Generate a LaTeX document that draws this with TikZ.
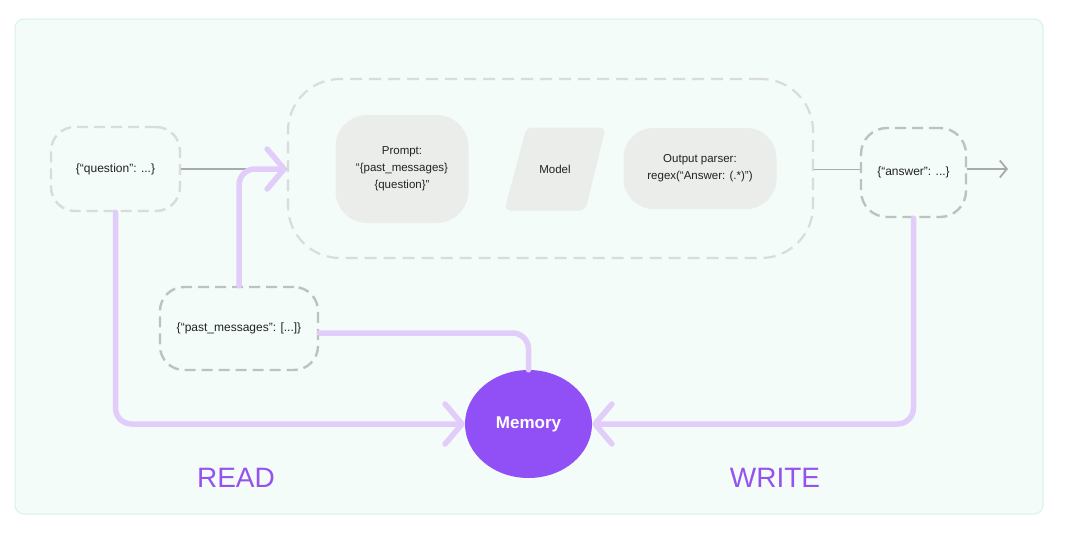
\documentclass[tikz,border=0pt]{standalone}
\usepackage{fontspec}
\setmainfont{Liberation Sans}
\usetikzlibrary{arrows.meta,shapes.geometric}
\definecolor{bgfill}{HTML}{F3FCF8}
\definecolor{bgline}{HTML}{D6F3E4}
\definecolor{dashlight}{HTML}{DADCDA}
\definecolor{dashdark}{HTML}{BEC2BF}
\definecolor{boxfill}{HTML}{EBEDEB}
\definecolor{lilac}{HTML}{E2CCFA}
\definecolor{memfill}{HTML}{914FF6}
\definecolor{wordpurple}{HTML}{9552EE}
\definecolor{greyline}{HTML}{A9ABA9}
\definecolor{txt}{HTML}{222222}
\tikzset{
  iobox/.style={draw=dashlight, line width=2.4pt, dash pattern=on 11pt off 6pt, rounded corners=24pt, fill=bgfill, text=txt, font=\fontsize{12}{14}\selectfont, inner sep=0pt},
  darkio/.style={iobox, draw=dashdark},
  stagebox/.style={fill=boxfill, text=txt, rounded corners=32pt, font=\fontsize{11.5}{17}\selectfont, align=center, inner sep=0pt},
  purpleflow/.style={draw=lilac, line width=5.5pt, rounded corners=16pt, line cap=round},
  purpletip/.style={-{Straight Barb[length=17pt,width=40pt,round]}},
  greyflow/.style={draw=greyline, line width=1.8pt},
  bigword/.style={text=wordpurple, font=\fontsize{28}{32}\selectfont}
}
\begin{document}
\begin{tikzpicture}[x=1pt,y=-1pt]
\useasboundingbox (0,0) rectangle (1080,538);
% background panel
\node[draw=bgline, fill=bgfill, line width=1pt, rounded corners=9pt, minimum width=1028pt, minimum height=495pt, inner sep=0pt] (panel) at (529,266.5) {};
% pipeline container
\node[draw=dashlight, line width=2.2pt, dash pattern=on 12pt off 7pt, rounded corners=52pt, minimum width=525pt, minimum height=179pt, inner sep=0pt] (pipe) at (550.5,168.5) {};
% stages
\node[stagebox, minimum width=133pt, minimum height=108pt] (prompt) at (402,169) {Prompt:\\“\{past\_messages\}\\\{question\}”};
\filldraw[fill=boxfill, draw=boxfill, line width=1pt, rounded corners=5pt] (527,128) -- (605,128) -- (585,210) -- (505,210) -- cycle;
\node[text=txt, font=\fontsize{11.5}{14}\selectfont] (model) at (555,169) {Model};
\node[stagebox, rounded corners=30pt, minimum width=153pt, minimum height=81pt] (parser) at (700,168.5) {Output parser:\\regex(“Answer: (.*)”)};
% io nodes
\node[iobox, minimum width=129pt, minimum height=84pt] (question) at (115.5,169) {\{“question”: ...\}};
\node[darkio, minimum width=105pt, minimum height=89pt, rounded corners=26pt] (answer) at (913.5,172.5) {\{“answer”: ...\}};
\node[darkio, minimum width=158pt, minimum height=83pt] (past) at (239,328.5) {\{“past\_messages”: [...]\}};
% memory
\node[ellipse, fill=memfill, minimum width=127pt, minimum height=108pt, inner sep=0pt, text=white, font=\fontsize{17}{19}\selectfont\bfseries] (memory) at (528.5,424) {Memory};
% words
\node[bigword] (read) at (236,478) {READ};
\node[bigword] (write) at (775,478) {WRITE};
% grey flows
\draw[greyflow] (question.east) -- (pipe.west |- question.east);
\draw[greyflow] (pipe.east |- answer.west) ++(0,-3) coordinate (pe) -- (answer.west |- pe);
\coordinate (outend) at (1008,169);
\draw[greyflow, -{Straight Barb[length=7pt,width=17pt]}] (answer.east |- outend) -- (outend);
% purple flows
\coordinate (qin) at (pipe.west |- question.east);
\draw[purpleflow, purpletip] (past.north) -- (past.north |- qin) -- (qin);
\draw[purpleflow] (past.east |- 0,333) -- (memory.north |- 0,333) -- (memory.north);
\draw[purpleflow, purpletip] (question.south) -- (question.south |- memory.west) -- (memory.west);
\draw[purpleflow, purpletip] (answer.south) -- (answer.south |- memory.east) -- (memory.east);
\end{tikzpicture}
\end{document}
